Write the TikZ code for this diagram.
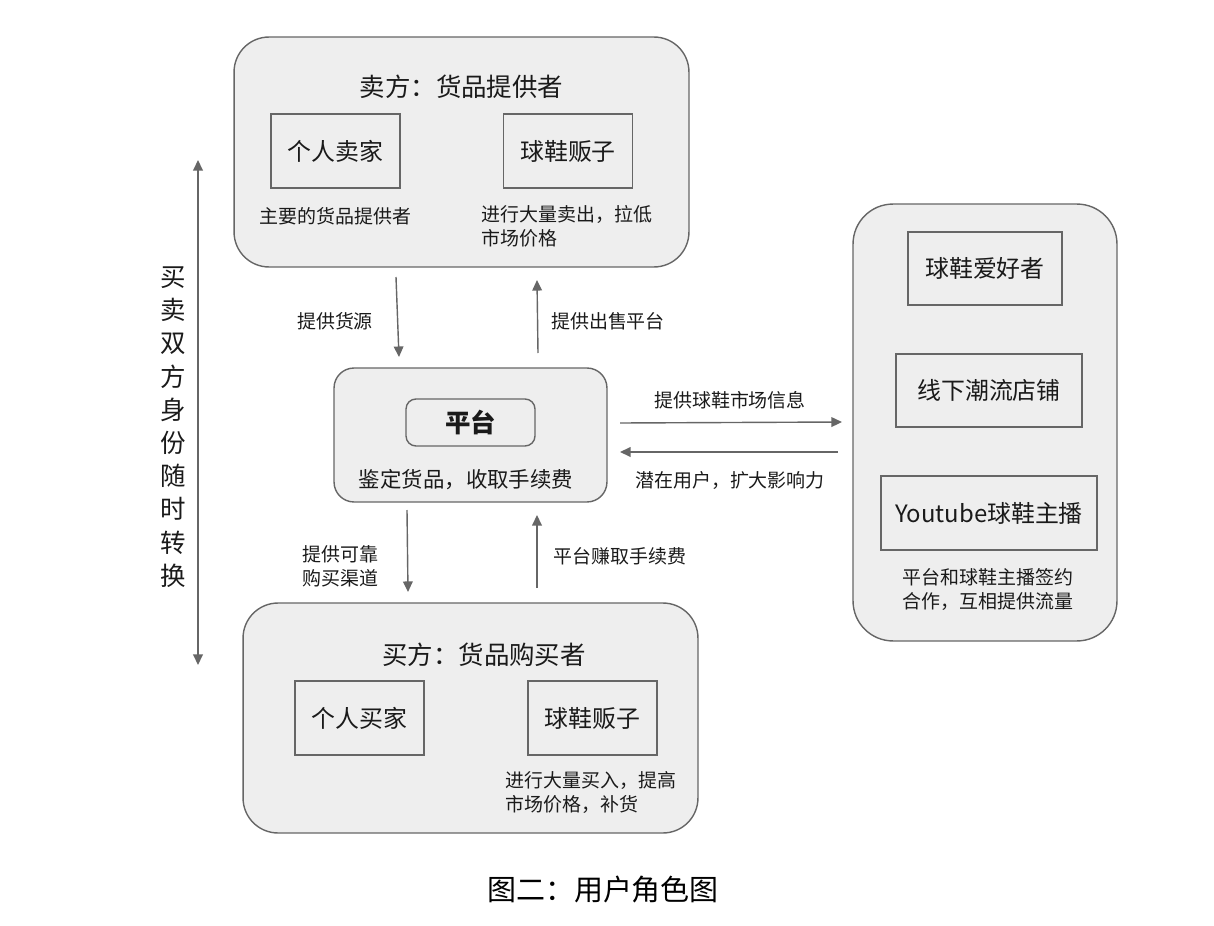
\documentclass[tikz,border=0pt]{standalone}
\usepackage{fontspec}
\setmainfont{Noto Sans CJK SC}
\usetikzlibrary{arrows.meta}

\definecolor{roleFill}{HTML}{EEEEEE}
\definecolor{roleLine}{HTML}{666666}
\definecolor{roleText}{HTML}{1A1A1A}

\tikzset{
  groupbox/.style={draw=roleLine,fill=roleFill,line width=0.8pt,rounded corners=0.7cm},
  itembox/.style={draw=roleLine,line width=0.8pt,minimum width=2.58cm,minimum height=1.48cm,
    font=\fontsize{13.6}{16}\selectfont},
  flow/.style={roleLine,line width=0.8pt,-{Triangle[length=6pt,width=5.5pt]}},
  note/.style={font=\fontsize{10.8}{13.6}\selectfont,align=left,text=roleText},
}

\begin{document}
\begin{tikzpicture}[x=0.02cm,y=-0.02cm,text=roleText]
  \useasboundingbox (0,0) rectangle (1214,926);
  % seller group
  \node[groupbox,minimum width=9.1cm,minimum height=4.6cm] (seller) at (461.5,152) {};
  \node[font=\fontsize{14.5}{17}\selectfont] (sellerTitle) at (461.5,87) {卖方：货品提供者};
  \node[itembox] (sellerPerson) at (335.5,151) {个人卖家};
  \node[itembox] (sellerDealer) at (568,151) {球鞋贩子};
  \node[note] (sellerPersonNote) at (335.5,216) {主要的货品提供者};
  \node[note,anchor=north west,inner sep=0pt] (sellerDealerNote) at (481,205) {进行大量卖出，拉低\\市场价格};
  % platform
  \node[groupbox,rounded corners=0.4cm,minimum width=5.46cm,minimum height=2.68cm] (platform) at (470.5,435) {};
  \node[draw=roleLine,line width=0.8pt,rounded corners=0.2cm,minimum width=2.58cm,minimum height=0.94cm,
    font=\fontsize{14.5}{17}\selectfont\bfseries] (platformName) at (470.5,422.5) {平台};
  \node[font=\fontsize{12.2}{15}\selectfont] (platformNote) at (466,480) {鉴定货品，收取手续费};
  % buyer group
  \node[groupbox,minimum width=9.1cm,minimum height=4.6cm] (buyer) at (470.5,718) {};
  \node[font=\fontsize{14.5}{17}\selectfont] (buyerTitle) at (484,655) {买方：货品购买者};
  \node[itembox] (buyerPerson) at (359.5,718) {个人买家};
  \node[itembox] (buyerDealer) at (592.5,718) {球鞋贩子};
  \node[note,anchor=north west,inner sep=0pt] (buyerDealerNote) at (505,771) {进行大量买入，提高\\市场价格，补货};
  % outside users
  \node[groupbox,rounded corners=0.8cm,minimum width=5.28cm,minimum height=8.74cm] (outside) at (985,422.5) {};
  \node[itembox,minimum width=3.08cm,minimum height=1.46cm] (fans) at (985,268.5) {球鞋爱好者};
  \node[itembox,minimum width=3.72cm,minimum height=1.46cm] (shops) at (989,390.5) {线下潮流店铺};
  \node[itembox,minimum width=4.32cm,minimum height=1.48cm] (youtubers) at (989,513) {Youtube球鞋主播};
  \node[note,align=left] (youtubersNote) at (988,589.5) {平台和球鞋主播签约\\合作，互相提供流量};
  % arrows between seller and platform
  \coordinate (sellerOut) at (396,277);
  \coordinate (platformIn) at (399,357);
  \coordinate (platformUp) at (538,353);
  \coordinate (sellerIn) at (537,280);
  \draw[flow] (sellerOut) -- (platformIn);
  \draw[flow] (platformUp) -- (sellerIn);
  \node[note] (supplyLabel) at (335,321) {提供货源};
  \node[note] (saleLabel) at (608,321) {提供出售平台};
  % arrows between platform and buyer
  \coordinate (platformDown) at (407,510);
  \coordinate (buyerIn) at (408,592);
  \coordinate (buyerOut) at (537,588);
  \coordinate (platformBack) at (537,515);
  \draw[flow] (platformDown) -- (buyerIn);
  \draw[flow] (buyerOut) -- (platformBack);
  \node[note,anchor=north west,inner sep=0pt] (channelLabel) at (302,545) {提供可靠\\购买渠道};
  \node[note] (feeLabel) at (620,556) {平台赚取手续费};
  % arrows between platform and outside users
  \coordinate (infoStart) at (620,423);
  \coordinate (infoEnd) at (842,422);
  \coordinate (userStart) at (838,452);
  \coordinate (userEnd) at (620,452);
  \draw[flow] (infoStart) -- (infoEnd);
  \draw[flow] (userStart) -- (userEnd);
  \node[note] (infoLabel) at (730,400) {提供球鞋市场信息};
  \node[note] (userLabel) at (730,480) {潜在用户，扩大影响力};
  % role switch
  \coordinate (switchTop) at (198,160);
  \coordinate (switchBottom) at (198,665);
  \draw[flow,{Triangle[length=6pt,width=5.5pt]}-{Triangle[length=6pt,width=5.5pt]}] (switchTop) -- (switchBottom);
  \node[font=\fontsize{14.5}{18.9}\selectfont,align=center] (switchLabel) at (173,427)
    {买\\卖\\双\\方\\身\\份\\随\\时\\转\\换};
  % caption
  \node[font=\fontsize{16.5}{20}\selectfont,text=black] (caption) at (603,890) {图二：用户角色图};
\end{tikzpicture}
\end{document}
